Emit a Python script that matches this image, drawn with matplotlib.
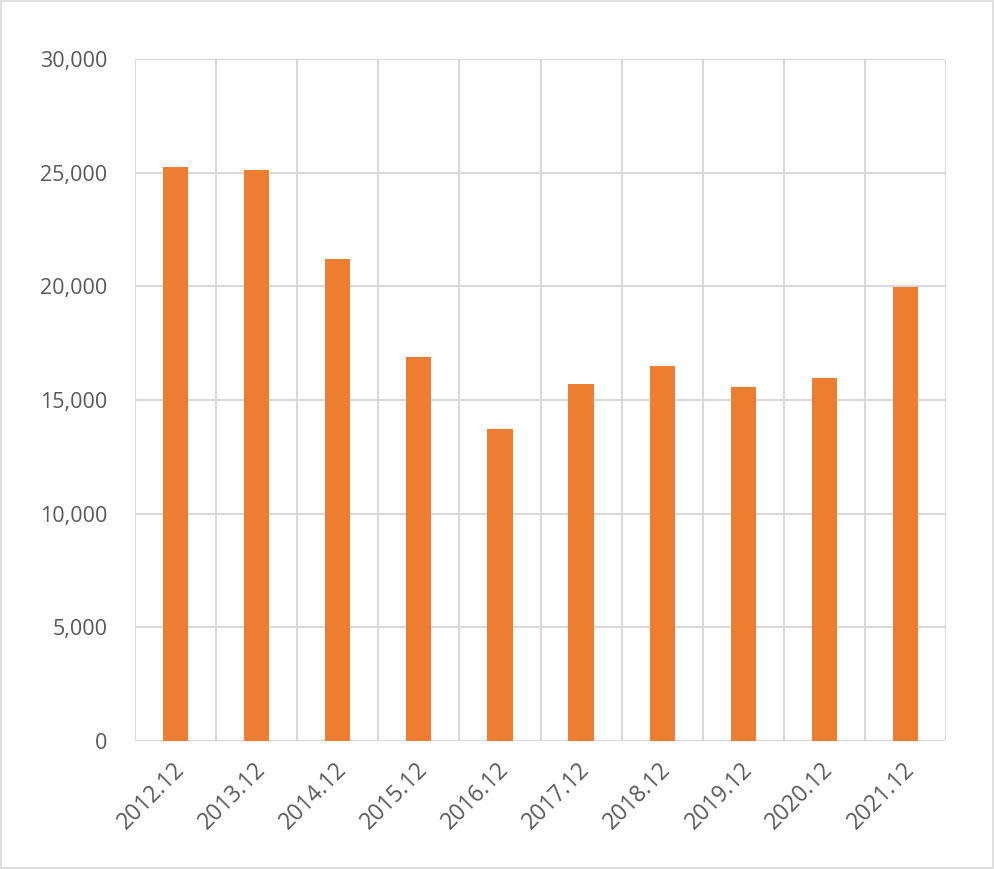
import matplotlib
matplotlib.use("Agg")
import matplotlib.pyplot as plt
import matplotlib.transforms as mtransforms
from matplotlib.patches import Rectangle

categories = ["2012.12", "2013.12", "2014.12", "2015.12", "2016.12",
              "2017.12", "2018.12", "2019.12", "2020.12", "2021.12"]
values = [25250, 25120, 21200, 16890, 13725, 15700, 16500, 15570, 15970, 19970]
yticks = [0, 5000, 10000, 15000, 20000, 25000, 30000]

plt.rcParams['font.family'] = ['Open Sans', 'DejaVu Sans']

fig = plt.figure(figsize=(9.94, 8.69), dpi=100)
ax = fig.add_axes([135/994, 1-741/869, (946-135)/994, (741-59)/869])

x = list(range(len(categories)))
ax.bar(x, values, width=0.31, color="#ED7D31", zorder=3)

ax.set_xlim(-0.5, len(categories) - 0.5)
ax.set_ylim(0, 30000)
ax.set_yticks(yticks)
ax.set_yticklabels([f"{v:,}" for v in yticks], fontsize=15.5, color="#595959")
ax.set_xticks(x)
ax.set_xticklabels(categories, fontsize=16.5, color="#595959", rotation=45,
                   ha="right", va="top", rotation_mode="anchor")
ax.tick_params(axis="both", length=0)
ax.tick_params(axis="y", pad=20)
ax.tick_params(axis="x", pad=12)

offset = mtransforms.ScaledTranslation(-3/100, 0, fig.dpi_scale_trans)
for lbl in ax.get_xticklabels():
    lbl.set_transform(lbl.get_transform() + offset)

gc = "#D9D9D9"
for yv in yticks:
    ax.axhline(yv, color=gc, lw=1.5, zorder=1)
for b in [i - 0.5 for i in range(len(categories) + 1)]:
    ax.axvline(b, color=gc, lw=1.5, zorder=1)
for s in ax.spines.values():
    s.set_visible(False)

fig.patches.append(Rectangle((0.001, 0.001), 0.998, 0.998, transform=fig.transFigure,
                             fill=False, edgecolor="#D9D9D9", lw=1.2))
fig.savefig("out.png", dpi=100)
